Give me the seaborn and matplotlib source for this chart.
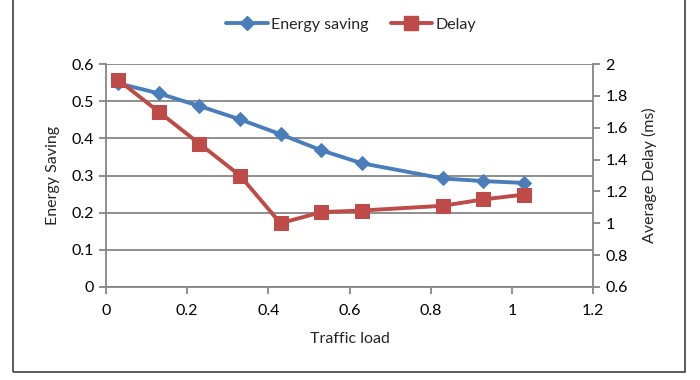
import matplotlib
matplotlib.use("Agg")
import matplotlib.pyplot as plt
import matplotlib.patches as mpatches
from matplotlib.lines import Line2D
import seaborn as sns
import pandas as pd

# Measured series
traffic_load = [0.03, 0.13, 0.23, 0.33, 0.43, 0.53, 0.63, 0.83, 0.93, 1.03]
energy_saving = [0.548, 0.521, 0.487, 0.451, 0.411, 0.368, 0.333, 0.292, 0.285, 0.280]
avg_delay_ms = [1.90, 1.70, 1.50, 1.30, 1.00, 1.07, 1.08, 1.11, 1.15, 1.18]

x_ticks = [0, 0.2, 0.4, 0.6, 0.8, 1, 1.2]
left_ticks = [0, 0.1, 0.2, 0.3, 0.4, 0.5, 0.6]
right_ticks = [0.6, 0.8, 1, 1.2, 1.4, 1.6, 1.8, 2]

BLUE = "#4A7EBB"
RED = "#BE4B48"
GRID = "#868686"
FS = 11.5

sns.set_theme(style="white")
plt.rcParams["font.family"] = ["Lato", "DejaVu Sans"]

df = pd.DataFrame({"load": traffic_load, "energy": energy_saving, "delay": avg_delay_ms})

fig = plt.figure(figsize=(7, 3.8), dpi=100)
ax = fig.add_axes([106 / 700, 1 - 287 / 380, (593 - 106) / 700, (287 - 64) / 380])
ax2 = ax.twinx()

sns.lineplot(data=df, x="load", y="energy", ax=ax, color=BLUE, linewidth=2.8,
             marker="D", markersize=7.5, markeredgecolor=BLUE, zorder=3)
sns.lineplot(data=df, x="load", y="delay", ax=ax2, color=RED, linewidth=2.8,
             marker="s", markersize=9.5, markeredgecolor=RED, zorder=3)

ax.set_xlim(0, 1.2)
ax.set_ylim(0, 0.6)
ax2.set_ylim(0.6, 2)
ax.set_xticks(x_ticks)
ax.set_xticklabels([f"{v:g}" for v in x_ticks])
ax.set_yticks(left_ticks)
ax.set_yticklabels([f"{v:g}" for v in left_ticks])
ax2.set_yticks(right_ticks)
ax2.set_yticklabels([f"{v:g}" for v in right_ticks])

ax.yaxis.grid(True, color=GRID, linewidth=1.3)
ax.xaxis.grid(False)
ax2.grid(False)
ax.set_axisbelow(True)

for a in (ax, ax2):
    for s in a.spines.values():
        s.set_visible(False)
ax.spines["left"].set_visible(True)
ax.spines["left"].set_color(GRID)
ax.spines["left"].set_linewidth(1.3)
ax.spines["bottom"].set_visible(True)
ax.spines["bottom"].set_color(GRID)
ax.spines["bottom"].set_linewidth(1.3)
ax2.spines["right"].set_visible(True)
ax2.spines["right"].set_color(GRID)
ax2.spines["right"].set_linewidth(1.3)

ax.tick_params(axis="both", which="major", direction="out", length=5, width=1.3,
               color=GRID, labelsize=FS, labelcolor="black", pad=4,
               left=True, bottom=True)
ax.tick_params(axis="x", pad=7)
ax2.tick_params(axis="y", direction="out", length=5, width=1.3, color=GRID,
                labelsize=FS, labelcolor="black", right=True, pad=4)

ax.set_xlabel("Traffic load", fontsize=FS, labelpad=10)
ax.set_ylabel("Energy Saving", fontsize=FS, labelpad=8)
ax2.set_ylabel("Average Delay (ms)", fontsize=FS, labelpad=10)

ax2.set_zorder(ax.get_zorder() + 1)
ax.patch.set_visible(True)
ax2.patch.set_visible(False)

handles = [
    Line2D([], [], color=BLUE, linewidth=2.8, marker="D", markersize=7.5),
    Line2D([], [], color=RED, linewidth=2.8, marker="s", markersize=9.5),
]
fig.legend(handles, ["Energy saving", "Delay"], loc="center",
           bbox_to_anchor=(351 / 700, 1 - 25 / 380), ncol=2, frameon=False,
           fontsize=FS, handlelength=2.6, handletextpad=0.2, columnspacing=1.4)

# Outer chart frame
fig.patches.append(mpatches.Rectangle((13 / 700, 1 - 372 / 380), (685 - 13) / 700, 372 / 380 + 0.02,
                                      transform=fig.transFigure, fill=False,
                                      edgecolor="#404040", linewidth=1.2))

fig.savefig("out.png", dpi=100)
